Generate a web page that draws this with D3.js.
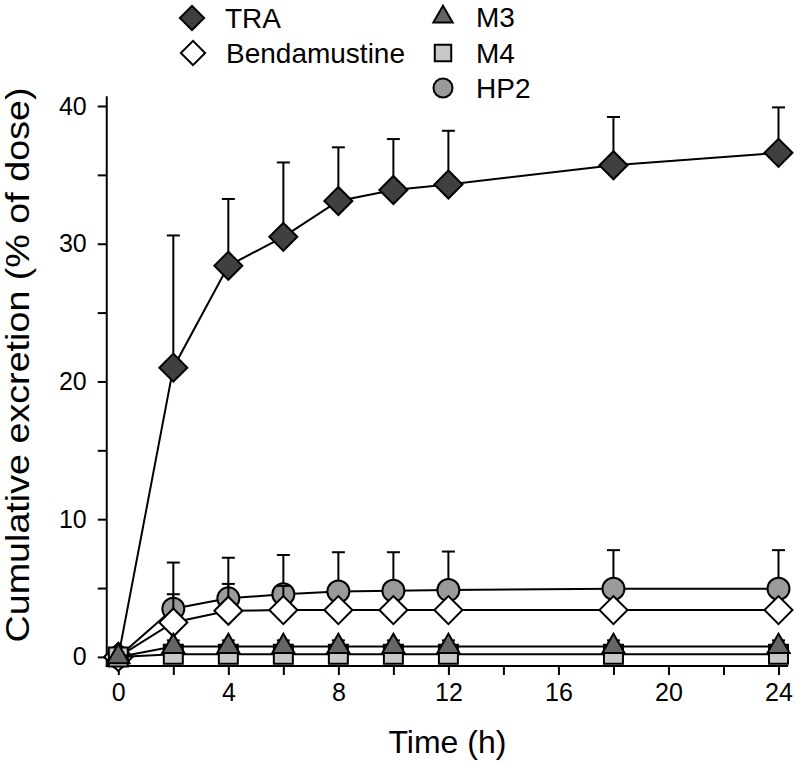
<!DOCTYPE html>
<html><head><meta charset="utf-8">
<script src="https://cdn.jsdelivr.net/npm/d3@7"></script>
<style>html,body{margin:0;padding:0;background:#fff;}svg{display:block;font-family:"Liberation Sans",Arial,Helvetica,sans-serif;}</style>
</head><body>
<svg id="chart" width="796" height="764"></svg>
<script>
// ---- data ----
const times = [0, 2, 4, 6, 8, 10, 12, 18, 24];
const traValues   = [0, 21.0, 28.4, 30.5, 33.1, 33.9, 34.3, 35.7, 36.6];
const traSD       = [0, 9.6, 4.85, 5.4, 3.9, 3.7, 3.9, 3.5, 3.3];
const bendaValues = [0, 2.5, 3.35, 3.4, 3.4, 3.4, 3.4, 3.4, 3.4];
const bendaSD     = [0, 2.05, 1.95, 1.75, 0, 0, 0, 0, 0];
const hp2Values   = [0, 3.5, 4.25, 4.55, 4.75, 4.8, 4.85, 4.95, 4.95];
const hp2SD       = [0, 3.35, 2.95, 2.85, 2.85, 2.8, 2.8, 2.8, 2.8];
const m3Values    = [0, 0.75, 0.75, 0.75, 0.75, 0.75, 0.75, 0.75, 0.75];
const m3SD        = [0, 0.45, 0.45, 0.45, 0.45, 0.45, 0.45, 0.45, 0.45];
const m4Values    = [0, 0.2, 0.2, 0.2, 0.2, 0.2, 0.2, 0.2, 0.2];
const m4SD        = [0, 0.3, 0.3, 0.3, 0.3, 0.3, 0.3, 0.3, 0.3];
const xTickValues = [0, 2, 4, 6, 8, 10, 12, 14, 16, 18, 20, 22, 24];
const xTickLabels = [0, 4, 8, 12, 16, 20, 24];
const yTickValues = [0, 5, 10, 15, 20, 25, 30, 35, 40];
const yTickLabels = [0, 10, 20, 30, 40];
const seriesNames = ["TRA", "Bendamustine", "M3", "M4", "HP2"];

// ---- styles ----
const styles = {
  "TRA":          {shape: "diamond",  fill: "#404040", size: 392},
  "Bendamustine": {shape: "diamond",  fill: "#ffffff", size: 392},
  "M3":           {shape: "triangle", fill: "#666666", size: 215},
  "M4":           {shape: "square",   fill: "#c8c8c8", size: 361},
  "HP2":          {shape: "circle",   fill: "#9a9a9a", size: 380}
};
const seriesData = {
  "TRA": [traValues, traSD], "Bendamustine": [bendaValues, bendaSD],
  "HP2": [hp2Values, hp2SD], "M3": [m3Values, m3SD], "M4": [m4Values, m4SD]
};
const drawOrder = ["TRA", "HP2", "Bendamustine", "M4", "M3"];

const svg = d3.select("#chart");
const x = d3.scaleLinear().domain([0, 24]).range([118.3, 778.5]);
const y = d3.scaleLinear().domain([0, 40]).range([656.9, 106]);
const xAxisY = y(-0.66);
const yAxisX = x(-0.42);

function symbolPath(st) {
  const type = st.shape === "diamond" || st.shape === "square" ? d3.symbolSquare
    : st.shape === "triangle" ? d3.symbolTriangle : d3.symbolCircle;
  return d3.symbol().type(type).size(st.size)();
}
function symbolTransform(st, cx, cy) {
  return st.shape === "diamond" ? `translate(${cx},${cy}) rotate(45)` : `translate(${cx},${cy})`;
}

// axes
const yAxis = d3.axisLeft(y).tickValues(yTickValues)
  .tickFormat(d => yTickLabels.includes(d) ? d : "").tickSize(9).tickPadding(11);
const gy = svg.append("g").attr("transform", `translate(${yAxisX},0)`).call(yAxis);
gy.select(".domain").remove();
gy.selectAll(".tick line").attr("stroke", "#000").attr("stroke-width", 2);
gy.selectAll(".tick text").attr("font-size", 25).attr("fill", "#000")
  .attr("font-family", "'Liberation Sans', Arial, sans-serif");

const xAxis = d3.axisBottom(x).tickValues(xTickValues)
  .tickFormat(d => xTickLabels.includes(d) ? d : "").tickSize(9).tickPadding(8);
const gx = svg.append("g").attr("transform", `translate(0,${xAxisY})`).call(xAxis);
gx.select(".domain").remove();
gx.selectAll(".tick line").attr("stroke", "#000").attr("stroke-width", 2);
gx.selectAll(".tick text").attr("font-size", 25).attr("fill", "#000")
  .attr("font-family", "'Liberation Sans', Arial, sans-serif");

svg.append("line").attr("x1", yAxisX).attr("x2", yAxisX).attr("y1", y(40.7)).attr("y2", xAxisY + 1)
  .attr("stroke", "#000").attr("stroke-width", 2);
svg.append("line").attr("x1", yAxisX - 1).attr("x2", x(24.35)).attr("y1", xAxisY).attr("y2", xAxisY)
  .attr("stroke", "#000").attr("stroke-width", 2);

// axis titles
svg.append("text").attr("x", (yAxisX + x(24.35)) / 2).attr("y", 753).attr("text-anchor", "middle")
  .attr("font-size", 32).attr("fill", "#000").text("Time (h)");
svg.append("text").attr("transform", `translate(29,${365}) rotate(-90)`).attr("text-anchor", "middle")
  .attr("font-size", 33).attr("fill", "#000").attr("textLength", 555).attr("lengthAdjust", "spacingAndGlyphs")
  .text("Cumulative excretion (% of dose)");

// series
const line = d3.line().x(d => x(d.t)).y(d => y(d.v));
drawOrder.forEach(name => {
  const [vals, sds] = seriesData[name];
  const st = styles[name];
  const pts = times.map((t, i) => ({t, v: vals[i], sd: sds[i]}));
  const g = svg.append("g");
  g.append("path").datum(pts).attr("d", line).attr("fill", "none").attr("stroke", "#000").attr("stroke-width", 2);
  const eb = g.selectAll(".eb").data(pts.filter(p => p.sd > 0)).join("g");
  eb.append("line").attr("x1", d => x(d.t)).attr("x2", d => x(d.t))
    .attr("y1", d => y(d.v)).attr("y2", d => y(d.v + d.sd)).attr("stroke", "#000").attr("stroke-width", 2);
  eb.append("line").attr("x1", d => x(d.t) - 6.5).attr("x2", d => x(d.t) + 6.5)
    .attr("y1", d => y(d.v + d.sd)).attr("y2", d => y(d.v + d.sd)).attr("stroke", "#000").attr("stroke-width", 2);
  g.selectAll(".mk").data(pts).join("path")
    .attr("d", symbolPath(st)).attr("transform", d => symbolTransform(st, x(d.t), y(d.v)))
    .attr("fill", st.fill).attr("stroke", "#000").attr("stroke-width", 2);
});

// legend
const legendItems = [
  {name: "TRA", cx: 192, cy: 18},
  {name: "Bendamustine", cx: 193, cy: 53},
  {name: "M3", cx: 443, cy: 17},
  {name: "M4", cx: 443, cy: 53},
  {name: "HP2", cx: 443, cy: 88}
];
const lg = svg.append("g");
legendItems.forEach(it => {
  const st = Object.assign({}, styles[it.name]);
  st.size = st.size * 0.75;
  lg.append("path").attr("d", symbolPath(st)).attr("transform", symbolTransform(st, it.cx, it.cy))
    .attr("fill", st.fill).attr("stroke", "#000").attr("stroke-width", 2);
  lg.append("text").attr("x", it.cx + 33).attr("y", it.cy + 10).attr("font-size", 28).attr("fill", "#000").text(it.name);
});
</script>
</body></html>
